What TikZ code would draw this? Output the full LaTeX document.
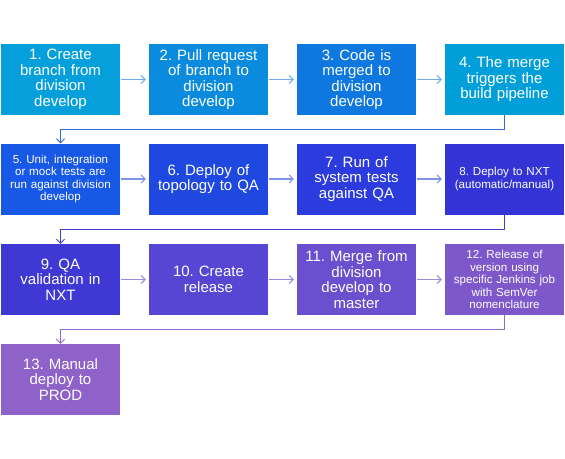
\documentclass[tikz,border=0pt]{standalone}
\usepackage{fontspec}
\setmainfont{Liberation Sans}
\usetikzlibrary{arrows.meta}
\frenchspacing
\definecolor{c1}{HTML}{05A0DC}
\definecolor{c2}{HTML}{0A8BDD}
\definecolor{c3}{HTML}{0E78E0}
\definecolor{c4}{HTML}{009FDA}
\definecolor{c5}{HTML}{1858E6}
\definecolor{c6}{HTML}{1E48E0}
\definecolor{c7}{HTML}{2B3BDD}
\definecolor{c8}{HTML}{3434D6}
\definecolor{c9}{HTML}{3F38D5}
\definecolor{c10}{HTML}{5646D3}
\definecolor{c11}{HTML}{6A4FCF}
\definecolor{c12}{HTML}{7D58CB}
\definecolor{c13}{HTML}{8E62C8}
\definecolor{a1}{HTML}{6FACE8}
\definecolor{a2}{HTML}{7F92EA}
\definecolor{a3}{HTML}{9A8AE2}
\definecolor{w1}{HTML}{2E6BD4}
\definecolor{w2}{HTML}{3F3FD0}
\definecolor{w3}{HTML}{8C6AD4}
\tikzset{
  stepbox/.style={fill=#1, text=white, minimum width=119pt, minimum height=71pt,
    inner sep=2pt, align=center, text width=115pt, font=\fontsize{15}{15.5}\selectfont},
  smalltext/.style={font=\fontsize{11.6}{12.4}\selectfont},
  harrow/.style={draw=#1, line width=1.5pt, -{Straight Barb[length=4pt,width=8pt,line width=1pt]},
    shorten <=1pt, shorten >=3pt},
  wrap/.style={draw=#1, line width=1pt, -{Straight Barb[length=4pt,width=8pt,line width=0.8pt]}}
}
\begin{document}
\begin{tikzpicture}[x=1pt,y={(0pt,-1pt)}]
\useasboundingbox (0,0) rectangle (565,458);
\fill[white] (0,0) rectangle (565,458);
% row 1
\node[stepbox=c1] (b1) at (60.5,79.5) {1. Create\\branch from\\division\\develop};
\node[stepbox=c2] (b2) at (208.5,79.5) {2. Pull request\\of branch to\\division\\develop};
\node[stepbox=c3] (b3) at (356.5,79.5) {3. Code is\\merged to\\division\\develop};
\node[stepbox=c4] (b4) at (504.5,79.5) {4. The merge\\triggers the\\build pipeline};
% row 2
\node[stepbox=c5,smalltext] (b5) at (60.5,179) {5. Unit, integration\\or mock tests are\\run against division\\develop};
\node[stepbox=c6] (b6) at (208.5,179) {6. Deploy of\\topology to QA};
\node[stepbox=c7] (b7) at (356.5,179) {7. Run of\\system tests\\against QA};
\node[stepbox=c8,smalltext] (b8) at (504.5,179) {8. Deploy to NXT\\(automatic/manual)};
% row 3
\node[stepbox=c9] (b9) at (60.5,279.5) {9. QA\\validation in\\NXT};
\node[stepbox=c10] (b10) at (208.5,279.5) {10. Create\\release};
\node[stepbox=c11] (b11) at (356.5,279.5) {11. Merge from\\division\\develop to\\master};
\node[stepbox=c12,smalltext] (b12) at (504.5,279.5) {12. Release of\\version using\\specific Jenkins job\\with SemVer\\nomenclature};
% row 4
\node[stepbox=c13] (b13) at (60.5,379.5) {13. Manual\\deploy to\\PROD};
% horizontal arrows
\draw[harrow=a1] (b1) -- (b2);
\draw[harrow=a1] (b2) -- (b3);
\draw[harrow=a1] (b3) -- (b4);
\draw[harrow=a2] (b5) -- (b6);
\draw[harrow=a2] (b6) -- (b7);
\draw[harrow=a2] (b7) -- (b8);
\draw[harrow=a3] (b9) -- (b10);
\draw[harrow=a3] (b10) -- (b11);
\draw[harrow=a3] (b11) -- (b12);
% wrap connectors
\draw[wrap=w1] (b4.south) -- ([yshift=-14pt]b4.south) -| (b5.north);
\draw[wrap=w2] (b8.south) -- ([yshift=-14.5pt]b8.south) -| (b9.north);
\draw[wrap=w3] (b12.south) -- ([yshift=-14pt]b12.south) -| (b13.north);
\end{tikzpicture}
\end{document}
